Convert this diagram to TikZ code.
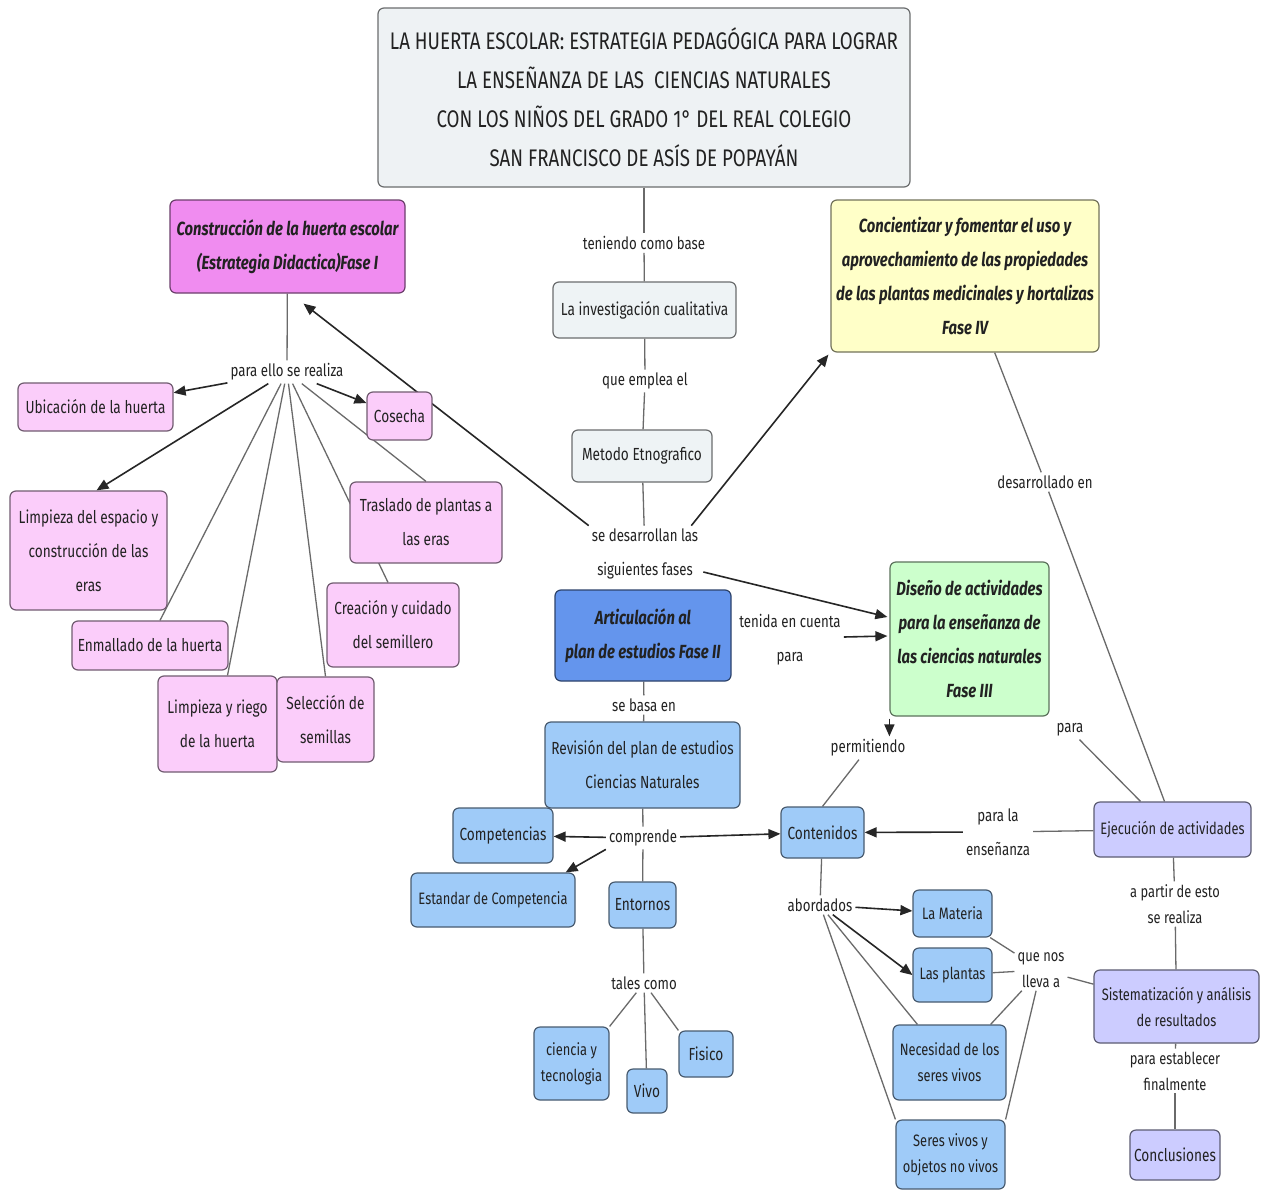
\documentclass[tikz,border=0pt]{standalone}
\usepackage{fontspec}
\setmainfont{Fira Sans}[FakeStretch=0.78]
\usetikzlibrary{arrows.meta,backgrounds,calc}
\definecolor{titlef}{HTML}{EEF2F4}
\definecolor{greyf}{HTML}{EEF3F5}
\definecolor{magf}{HTML}{F08CF0}
\definecolor{pinkf}{HTML}{FBCDFA}
\definecolor{yelf}{HTML}{FFFFC8}
\definecolor{grnf}{HTML}{CCFFCC}
\definecolor{bluef}{HTML}{6495ED}
\definecolor{lbluef}{HTML}{9FCBF8}
\definecolor{lavf}{HTML}{CCCCFF}
\definecolor{txt}{HTML}{222222}
\definecolor{lngray}{HTML}{6A6A6A}
\begin{document}
\begin{tikzpicture}[x=1pt,y=-1pt,
  box/.style={fill=#1, draw=#1!45!black, rounded corners=6pt, line width=1.2pt,
    align=center, inner sep=2pt, text=txt, font=\fontsize{17.5}{34}\selectfont},
  phase/.style={font=\fontsize{19}{34}\selectfont\bfseries\itshape},
  lbl/.style={align=center, inner sep=3pt, text=txt, font=\fontsize{17}{34}\selectfont},
  lbs/.style={align=center, inner sep=3pt, text=txt, font=\fontsize{16.5}{26}\selectfont},
  sm/.style={font=\fontsize{16.5}{26}\selectfont},
  ln/.style={draw=lngray, line width=1.3pt},
  arr/.style={draw=black!85, line width=1.6pt, -{Triangle[length=12pt,width=10pt]}}]
\useasboundingbox (0,0) rectangle (1269,1191);

% ---- boxes
\node[box=titlef, minimum width=532, minimum height=179, font=\fontsize{24}{39}\selectfont] (title) at (644,97.5)
  {LA HUERTA ESCOLAR: ESTRATEGIA PEDAGÓGICA PARA LOGRAR\\LA ENSEÑANZA DE LAS \ CIENCIAS NATURALES\\CON LOS NIÑOS DEL GRADO 1° DEL REAL COLEGIO\\SAN FRANCISCO DE ASÍS DE POPAYÁN};
\node[box=magf, phase, minimum width=235, minimum height=93] (fase1) at (287.5,246.5)
  {Construcción de la huerta escolar\\(Estrategia Didactica)Fase I};
\node[box=greyf, minimum width=183, minimum height=56] (inv) at (644.5,310) {La investigación cualitativa};
\node[box=greyf, minimum width=140, minimum height=52] (met) at (642,456) {Metodo Etnografico};
\node[box=yelf, phase, minimum width=268, minimum height=152] (fase4) at (965,276)
  {Concientizar y fomentar el uso y\\aprovechamiento de las propiedades\\de las plantas medicinales y hortalizas\\Fase IV};
\node[box=grnf, phase, minimum width=159, minimum height=154] (fase3) at (969.5,639)
  {Diseño de actividades\\para la enseñanza de\\las ciencias naturales\\Fase III};
\node[box=bluef, phase, minimum width=176, minimum height=91] (fase2) at (643,635.5)
  {Articulación al\\plan de estudios Fase II};
\node[box=lbluef, minimum width=195, minimum height=86] (rev) at (642.5,765)
  {Revisión del plan de estudios\\Ciencias Naturales};
\node[box=lbluef, minimum width=100, minimum height=55] (comp) at (503,835.5) {Competencias};
\node[box=lbluef, sm, minimum width=164, minimum height=54] (est) at (493,900) {Estandar de Competencia};
\node[box=lbluef, minimum width=67, minimum height=46] (ent) at (642.5,905) {Entornos};
\node[box=lbluef, sm, minimum width=75, minimum height=73] (cyt) at (571.5,1063.5) {ciencia y\\tecnologia};
\node[box=lbluef, minimum width=40, minimum height=44] (vivo) at (647,1091) {Vivo};
\node[box=lbluef, minimum width=54, minimum height=46] (fis) at (706,1054) {Fisico};
\node[box=lbluef, minimum width=83, minimum height=51] (cont) at (822.5,832.5) {Contenidos};
\node[box=lavf, sm, minimum width=157, minimum height=55] (ejec) at (1172.5,829.5) {Ejecución de actividades};
\node[box=lbluef, sm, minimum width=79, minimum height=47] (mat) at (952.5,913.5) {La Materia};
\node[box=lbluef, sm, minimum width=79, minimum height=54] (pla) at (952.5,975) {Las plantas};
\node[box=lbluef, sm, minimum width=113, minimum height=75] (nec) at (949.5,1062.5) {Necesidad de los\\seres vivos};
\node[box=lbluef, sm, minimum width=109, minimum height=69] (ser) at (950.5,1154.5) {Seres vivos y\\objetos no vivos};
\node[box=lavf, sm, minimum width=165, minimum height=73] (sis) at (1176.5,1006.5) {Sistematización y análisis\\de resultados};
\node[box=lavf, minimum width=90, minimum height=50] (concl) at (1175,1155) {Conclusiones};
\node[box=pinkf, minimum width=155, minimum height=48] (ubi) at (95.5,407) {Ubicación de la huerta};
\node[box=pinkf, minimum width=65, minimum height=48] (cos) at (399.5,416) {Cosecha};
\node[box=pinkf, minimum width=157, minimum height=119] (lim) at (88.5,550.5) {Limpieza del espacio y\\construcción de las\\eras};
\node[box=pinkf, minimum width=152, minimum height=81] (tra) at (426,522.5) {Traslado de plantas a\\las eras};
\node[box=pinkf, minimum width=132, minimum height=84] (cre) at (393,625) {Creación y cuidado\\del semillero};
\node[box=pinkf, minimum width=156, minimum height=49] (enm) at (150,645.5) {Enmallado de la huerta};
\node[box=pinkf, minimum width=119, minimum height=96] (lyr) at (217.5,724) {Limpieza y riego\\de la huerta};
\node[box=pinkf, minimum width=97, minimum height=85] (sel) at (325.5,719.5) {Selección de\\semillas};

% ---- linking phrases
\node[lbl] (lten) at (644,243) {teniendo como base};
\node[lbl] (lemp) at (645,381) {que emplea el};
\node[lbl] (ldes) at (645,554) {se desarrollan las\\siguientes fases};
\node[lbl] (lpe) at (287,372) {para ello se realiza};
\node[lbl] (lten2) at (790,640) {tenida en cuenta\\para};
\node[lbl] (lbasa) at (644,705) {se basa en};
\node[lbl] (lcomp) at (643,838) {comprende};
\node[lbl] (ltal) at (644,983) {tales como};
\node[lbl] (lperm) at (868,748) {permitiendo};
\node[lbl] (ldesen) at (1045,482) {desarrollado en};
\node[lbl] (lpara) at (1070,730) {para};
\node[lbl] (lple) at (998,832) {para la\\enseñanza};
\node[lbl] (labo) at (820,905) {abordados};
\node[lbs] (lque) at (1041,970) {que nos\\lleva a};
\node[lbs] (lapa) at (1175,904) {a partir de esto\\se realiza};
\node[lbs] (lest) at (1175,1071) {para establecer\\finalmente};

% ---- connectors
\begin{pgfonlayer}{background}
\fill[white] (0,0) rectangle (1269,1191);
\draw[ln] (title) -- (lten);
\draw[ln] (lten) -- (inv);
\draw[ln] (inv) -- (lemp);
\draw[ln] (lemp) -- (met);
\draw[ln] (met) -- (ldes);
\draw[arr] (ldes.north west) -- ($(fase1.south)+(16,10)$);
\draw[arr] ($(ldes.north east)+(-10,0)$) -- ($(fase4.south west)+(-2,2)$);
\draw[arr] ($(ldes.east)+(2,18)$) -- ($(fase3.west)+(-2,-22)$);
\draw[arr] ($(lten2.east)+(0,-3)$) -- ($(fase3.west)+(-2,-3)$);
\draw[ln] (fase1) -- (lpe);
\draw[arr] (lpe) -- (ubi);
\draw[arr] (lpe) -- (cos);
\draw[arr] (lpe) -- ($(lim.north)+(8,0)$);
\draw[ln] (lpe) -- ($(enm.north)+(10,0)$);
\draw[ln] (lpe) -- ($(lyr.north)+(10,0)$);
\draw[ln] (lpe) -- (sel.north);
\draw[ln] (lpe) -- ($(cre.north)+(-5,0)$);
\draw[ln] (lpe) -- (tra.north);
\draw[ln] (fase2) -- (lbasa);
\draw[ln] (lbasa) -- (rev);
\draw[ln] (rev) -- (lcomp);
\draw[arr] (lcomp) -- (comp);
\draw[arr] (lcomp.south west) -- ($(est.north east)+(-10,0)$);
\draw[arr] (lcomp) -- (cont);
\draw[ln] (lcomp) -- (ent);
\draw[ln] (ent) -- (ltal);
\draw[ln] (ltal) -- (cyt.north east);
\draw[ln] (ltal) -- (vivo);
\draw[ln] (ltal) -- (fis.north west);
\draw[arr] ($(fase3.south west)+(0,2)$) -- (lperm.north -| fase3.south west);
\draw[ln] (lperm) -- (cont.north);
\draw[ln] (fase4) -- (ldesen);
\draw[ln] (ldesen) -- ($(ejec.north)+(-8,0)$);
\draw[ln] (lpara) -- ($(ejec.north)+(-32,0)$);
\draw[ln] (ejec) -- (lple);
\draw[arr] (lple) -- (cont);
\draw[ln] (cont) -- (labo);
\draw[arr] (labo) -- (mat);
\draw[arr] (labo) -- (pla.west);
\draw[ln] (labo) -- ($(nec.north west)+(25,0)$);
\draw[ln] (labo) -- (ser.north west);
\draw[ln] (mat) -- (lque);
\draw[ln] (pla) -- (lque);
\draw[ln] (lque) -- ($(nec.north east)+(-16,0)$);
\draw[ln] (lque) -- (ser.north east);
\draw[ln] (lque) -- (sis);
\draw[ln] (ejec) -- (lapa);
\draw[ln] (lapa) -- (sis);
\draw[ln] (sis) -- (lest);
\draw[ln] (lest) -- (concl);
\end{pgfonlayer}
\end{tikzpicture}
\end{document}
